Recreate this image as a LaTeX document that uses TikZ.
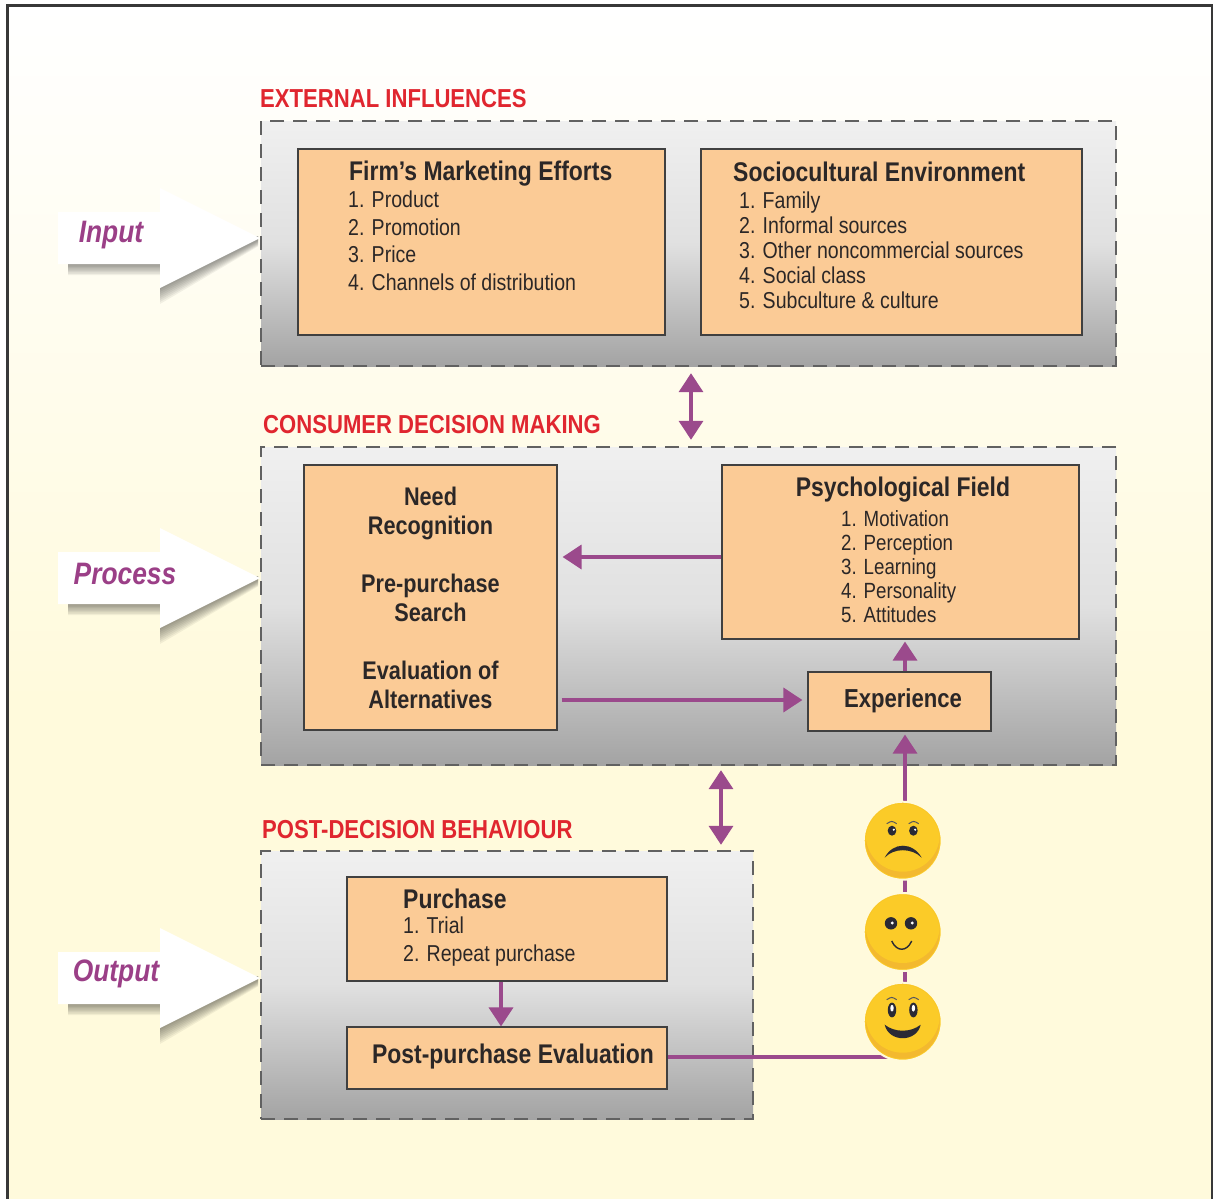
\documentclass[tikz,border=0pt]{standalone}
\usepackage{fontspec}
\setmainfont{Liberation Sans}[FakeStretch=0.85]
\usetikzlibrary{arrows.meta,calc}
\definecolor{inkc}{HTML}{2B2727}
\definecolor{redc}{HTML}{E0262F}
\definecolor{purpc}{HTML}{9B4A8C}
\definecolor{labc}{HTML}{9B3F87}
\definecolor{boxc}{HTML}{FBCB96}
\definecolor{creamc}{HTML}{FFFADC}
\definecolor{facec}{HTML}{FBCB28}
\definecolor{faced}{HTML}{F3B92F}
\definecolor{eyec}{HTML}{2A2A35}
\tikzset{
  panel/.style={draw=black!62,line width=2.4pt,dash pattern=on 14pt off 9pt,top color=white!94!black,bottom color=black!36,middle color=black!12,inner sep=0pt},
  orange/.style={draw=black!75,line width=1.2pt,fill=boxc,inner sep=0pt},
  title/.style={text=redc,font=\bfseries\fontsize{26}{28}\selectfont,anchor=west,inner sep=0pt},
  head/.style={text=inkc,font=\bfseries\fontsize{27}{30}\selectfont,inner sep=0pt},
  items/.style={text=inkc,align=left,anchor=north west,inner sep=0pt},
  sidelab/.style={text=labc,font=\bfseries\itshape\fontsize{31}{33}\selectfont,inner sep=0pt},
  link/.style={draw=purpc,line width=3.6pt},
  one/.style={link,-{Triangle[length=19pt,width=24pt]}},
  both/.style={link,{Triangle[length=19pt,width=24pt]}-{Triangle[length=19pt,width=24pt]}},
  facen/.style={circle,fill=facec,draw=creamc,line width=2pt,minimum size=78pt,inner sep=0pt},
}
\newcommand{\bigarrow}[1]{%
  \begin{scope}[shift={(0,#1)}]
    \foreach \d in {2,4,...,16}{
      \fill[black,opacity=.055] (68,26+\d*.7) -- (160,26+\d*.7) -- (160,50+\d) -- (258,2+\d*.4) -- (258,-2) -- (160,0) -- (68,0) -- cycle;
    }
    \fill[white] (58,-26) -- (160,-26) -- (160,-50) -- (260,0) -- (160,50) -- (160,26) -- (58,26) -- cycle;
  \end{scope}}
\newcommand{\facebase}[1]{%
  \begin{scope}
    \clip (#1) circle (37pt);
    \fill[faced] (#1) circle (38pt);
    \fill[facec] ($(#1)+(0,-6)$) circle (37pt);
  \end{scope}}
\begin{document}
\begin{tikzpicture}[x=1pt,y=-1pt]
\useasboundingbox (0,0) rectangle (1213,1199);
\fill[white] (0,0) rectangle (1213,1199);
\fill[bottom color=creamc,top color=white] (7,6) rectangle (1213,700);
\fill[creamc] (7,699) rectangle (1213,1199);
\draw[black!78,line width=3pt] (1213,6) -- (7,6) -- (7,1199);
\draw[black!78,line width=1.5pt] (1212,6) -- (1212,1199);

\bigarrow{238}
\bigarrow{578}
\bigarrow{978}

\node[panel,minimum width=855pt,minimum height=245pt] (panelA) at (688.5,243.5) {};
\node[panel,minimum width=855pt,minimum height=318pt] (panelB) at (688.5,606) {};
\node[panel,minimum width=492pt,minimum height=268pt] (panelC) at (507,985) {};

\node[title] (tA) at (260,99) {EXTERNAL INFLUENCES};
\node[title] (tB) at (263,425) {CONSUMER DECISION MAKING};
\node[title] (tC) at (262,830) {POST-DECISION BEHAVIOUR};

\node[sidelab] (lA) at (111,235) {Input};
\node[sidelab] (lB) at (125,574) {Process};
\node[sidelab] (lC) at (116,974) {Output};

\node[orange,minimum width=367pt,minimum height=186pt] (firm) at (481.5,242) {};
\node[orange,minimum width=381pt,minimum height=186pt] (socio) at (891.5,242) {};
\node[orange,minimum width=253pt,minimum height=265pt] (need) at (430.5,597.5) {};
\node[orange,minimum width=357pt,minimum height=174pt] (psych) at (900.5,552) {};
\node[orange,minimum width=183pt,minimum height=59pt] (exper) at (899.5,701.5) {};
\node[orange,minimum width=320pt,minimum height=104pt] (purch) at (507,929) {};
\node[orange,minimum width=320pt,minimum height=62pt] (post) at (507,1058) {};

\node[head,anchor=west] (firmH) at (349,174) {Firm’s Marketing Efforts};
\node[items,font=\fontsize{23}{27.5}\selectfont] (firmL) at (348,191) {1. Product\\2. Promotion\\3. Price\\4. Channels of distribution};
\node[head,anchor=west] (socioH) at (733,172) {Sociocultural Environment};
\node[items,font=\fontsize{23}{24.8}\selectfont] (socioL) at (739,192) {1. Family\\2. Informal sources\\3. Other noncommercial sources\\4. Social class\\5. Subculture \& culture};
\node[head,align=center,font=\bfseries\fontsize{25.5}{29}\selectfont] (needT) at (430.5,598) {Need\\Recognition\\[29pt]Pre-purchase\\Search\\[29pt]Evaluation of\\Alternatives};
\node[head] (psychH) at (903,490) {Psychological Field};
\node[items,font=\fontsize{22}{24}\selectfont] (psychL) at (841,510) {1. Motivation\\2. Perception\\3. Learning\\4. Personality\\5. Attitudes};
\node[head,font=\bfseries\fontsize{26}{28}\selectfont] (experT) at (903,701) {Experience};
\node[head,anchor=west] (purchH) at (403,899) {Purchase};
\node[items,font=\fontsize{23}{28}\selectfont] (purchL) at (403,917) {1. Trial\\2. Repeat purchase};
\node[head] (postT) at (513,1057) {Post-purchase Evaluation};

\coordinate (colA) at (691,0);
\coordinate (colB) at (721,0);
\coordinate (colC) at (905,0);
\coordinate (colD) at (501,0);
\coordinate (rowA) at (0,557);
\coordinate (rowB) at (0,700);
\coordinate (rowC) at (0,1057);

\draw[both,shorten <=6pt,shorten >=6pt] (colA |- panelA.south) -- (colA |- panelB.north);
\draw[both,shorten <=4pt,shorten >=5pt] (colB |- panelB.south) -- (colB |- panelC.north);
\draw[one,shorten >=5pt] (psych.west |- rowA) -- (need.east |- rowA);
\draw[one,shorten <=4pt,shorten >=5pt] (need.east |- rowB) -- (exper.west |- rowB);
\draw[one,shorten >=2pt] (colC |- exper.north) -- (colC |- psych.south);

\node[circle,minimum size=2pt,inner sep=0pt] (hub) at (colC |- rowC) {};
\draw[link] (post.east |- rowC) -- (hub.center);
\draw[one,shorten >=3pt] (hub.center) -- (colC |- exper.south);
\draw[one] (colD |- purch.south) -- (colD |- post.north);

% faces
\node[facen] (sad) at (902.7,840.7) {};
\node[facen] (mid) at (902.7,932) {};
\node[facen] (happy) at (902.7,1021.7) {};
\facebase{sad}
\facebase{mid}
\facebase{happy}

% sad face
\fill[eyec] ($(sad)+(-10.7,-10)$) ellipse (4.3pt and 5pt);
\fill[eyec] ($(sad)+(10.7,-10)$) ellipse (4.3pt and 5pt);
\fill[white] ($(sad)+(-8.9,-11)$) circle (1.2pt);
\fill[white] ($(sad)+(12.5,-11)$) circle (1.2pt);
\draw[eyec!80,line width=1pt] ($(sad)+(-16,-17)$) .. controls ($(sad)+(-11,-20)$) .. ($(sad)+(-6,-17)$);
\draw[eyec!80,line width=1pt] ($(sad)+(6,-17)$) .. controls ($(sad)+(11,-20)$) .. ($(sad)+(16,-17)$);
\fill[eyec] ($(sad)+(-18,17)$) .. controls ($(sad)+(-10,1)$) and ($(sad)+(10,1)$) .. ($(sad)+(19,17)$)
  .. controls ($(sad)+(9,7)$) and ($(sad)+(-9,7)$) .. cycle;

% middle face
\fill[eyec] ($(mid)+(-11.7,-8.7)$) circle (6.2pt);
\fill[eyec] ($(mid)+(8.3,-8.7)$) circle (6.2pt);
\fill[white] ($(mid)+(-10.5,-9)$) circle (1.6pt);
\fill[white] ($(mid)+(9.5,-9)$) circle (1.6pt);
\draw[eyec,line width=1.4pt] ($(mid)+(-11,9)$) .. controls ($(mid)+(-6,20)$) and ($(mid)+(4,20)$) .. ($(mid)+(9,9)$);

% happy face
\fill[eyec] ($(happy)+(-10.7,-11.7)$) ellipse (4.2pt and 7.4pt);
\fill[eyec] ($(happy)+(10.7,-11.7)$) ellipse (4.2pt and 7.4pt);
\fill[white] ($(happy)+(-10.7,-13.5)$) ellipse (1.7pt and 3.4pt);
\fill[white] ($(happy)+(10.7,-13.5)$) ellipse (1.7pt and 3.4pt);
\draw[eyec!80,line width=1pt] ($(happy)+(-16,-22)$) .. controls ($(happy)+(-11,-25)$) .. ($(happy)+(-6,-22)$);
\draw[eyec!80,line width=1pt] ($(happy)+(6,-22)$) .. controls ($(happy)+(11,-25)$) .. ($(happy)+(16,-22)$);
\fill[eyec] ($(happy)+(-18,3)$) .. controls ($(happy)+(-8,11)$) and ($(happy)+(8,11)$) .. ($(happy)+(18,3)$)
  .. controls ($(happy)+(14,21)$) and ($(happy)+(-14,21)$) .. cycle;
\end{tikzpicture}
\end{document}
